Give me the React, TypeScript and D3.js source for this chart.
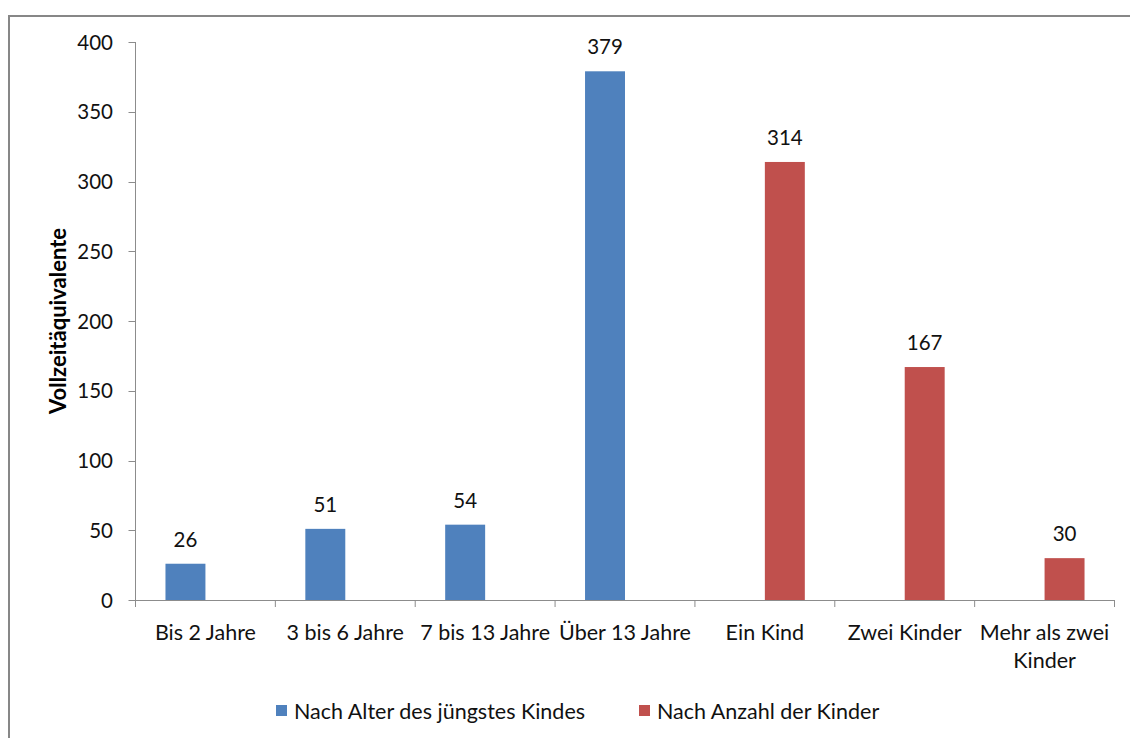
import React from "react";
import * as d3 from "d3";

const categories: string[][] = [
  ["Bis 2 Jahre"],
  ["3 bis 6 Jahre"],
  ["7 bis 13 Jahre"],
  ["Über 13 Jahre"],
  ["Ein Kind"],
  ["Zwei Kinder"],
  ["Mehr als zwei", "Kinder"],
];
const seriesNames = ["Nach Alter des jüngstes Kindes", "Nach Anzahl der Kinder"];
const seriesAge: (number | null)[] = [26, 51, 54, 379, null, null, null];
const seriesCount: (number | null)[] = [null, null, null, null, 314, 167, 30];
const yTicks = [0, 50, 100, 150, 200, 250, 300, 350, 400];
const colors = ["#4F81BD", "#C0504D"];

const W = 1130;
const H = 738;
const left = 135.5;
const right = 1114.5;
const top = 42;
const bottom = 600;
const FONT = "Lato, 'Open Sans', sans-serif";
const NUM_SIZE = 20.5;
const LABEL_SIZE = 21.5;

export default function App() {
  const x = d3.scaleBand<number>().domain(categories.map((_, i) => i)).range([left, right]).padding(0);
  const inner = d3
    .scaleBand<number>()
    .domain([0, 1])
    .range([0, x.bandwidth()])
    .paddingInner(0)
    .paddingOuter(0.75);
  const y = d3.scaleLinear().domain([0, 400]).range([bottom, top]);
  const series = [seriesAge, seriesCount];
  const boundaries = d3.range(categories.length + 1).map((i) => left + i * x.step());

  return (
    <svg
      width={W}
      height={H}
      style={{ position: "absolute", left: 0, top: 0, background: "#fff" }}
      fontFamily={FONT}
    >
      <rect x={0} y={0} width={W} height={H} fill="#fff" />
      <rect x={9} y={16} width={W + 20} height={H + 20} fill="none" stroke="#878787" strokeWidth={2} />

      {/* y axis */}
      <line x1={left} x2={left} y1={top} y2={bottom} stroke="#8c8c8c" strokeWidth={1} />
      {yTicks.map((t) => (
        <g key={t}>
          <line x1={left - 7} x2={left} y1={Math.round(y(t)) + 0.5} y2={Math.round(y(t)) + 0.5} stroke="#8c8c8c" />
          <text x={113} y={y(t) + 7.5} textAnchor="end" fontSize={NUM_SIZE} fill="#111">
            {t}
          </text>
        </g>
      ))}
      <text
        transform={`translate(66, ${(top + bottom) / 2}) rotate(-90)`}
        textAnchor="middle"
        fontSize={22}
        fontWeight="bold"
        fill="#000"
      >
        Vollzeitäquivalente
      </text>

      {/* x axis */}
      <line x1={left} x2={right} y1={bottom + 0.5} y2={bottom + 0.5} stroke="#8c8c8c" />
      {boundaries.map((bx, i) => (
        <line key={i} x1={bx} x2={bx} y1={bottom} y2={bottom + 7} stroke="#8c8c8c" />
      ))}
      {categories.map((lines, i) => (
        <text key={i} textAnchor="middle" fontSize={LABEL_SIZE} fill="#111">
          {lines.map((l, j) => (
            <tspan key={j} x={(x(i) as number) + x.bandwidth() / 2} y={640 + j * 28}>
              {l}
            </tspan>
          ))}
        </text>
      ))}

      {/* bars */}
      {series.map((vals, s) =>
        vals.map((v, i) =>
          v == null ? null : (
            <g key={`${s}-${i}`}>
              <rect
                x={(x(i) as number) + (inner(s) as number)}
                y={y(v)}
                width={inner.bandwidth()}
                height={y(0) - y(v)}
                fill={colors[s]}
              />
              <text
                x={(x(i) as number) + (inner(s) as number) + inner.bandwidth() / 2}
                y={y(v) - 17}
                textAnchor="middle"
                fontSize={NUM_SIZE}
                fill="#111"
              >
                {v}
              </text>
            </g>
          )
        )
      )}

      {/* legend */}
      {seriesNames.map((n, s) => {
        const lx = s === 0 ? 276 : 639;
        return (
          <g key={n}>
            <rect x={lx} y={705} width={11} height={11} fill={colors[s]} />
            <text x={lx + 18} y={719} fontSize={LABEL_SIZE} fill="#111">
              {n}
            </text>
          </g>
        );
      })}
    </svg>
  );
}
